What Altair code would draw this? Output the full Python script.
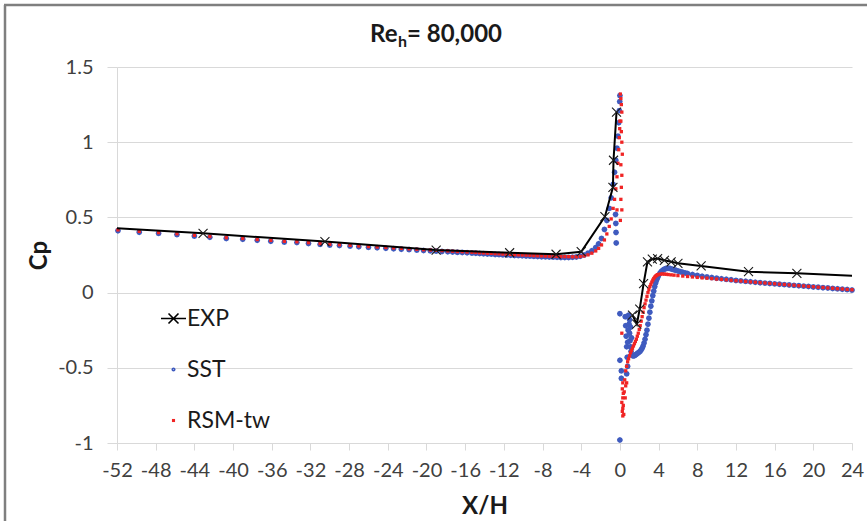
import altair as alt
import pandas as pd

FONT = "Lato"

# ---------------- text ----------------
TITLE_MAIN = ["Re"]
TITLE_SUB = ["h"]
TITLE_REST = ["= 80,000"]
SERIES = ["EXP", "SST", "RSM-tw"]
X_TICKS = list(range(-52, 25, 4))
Y_TICKS = [-1, -0.5, 0, 0.5, 1, 1.5]

# ---------------- EXP (line with crosses) ----------------
exp_upstream = [[-56, 0.443], [-43.1, 0.394], [-30.5, 0.339], [-19.0, 0.283], [-11.4, 0.265],
                [-6.6, 0.255], [-4.0, 0.272], [-1.55, 0.505], [-0.72, 0.70], [-0.66, 0.88],
                [-0.35, 1.20]]
exp_downstream = [[1.3, -0.15], [1.75, -0.21], [2.05, -0.11], [2.45, 0.06], [2.85, 0.205],
                  [3.35, 0.222], [3.9, 0.226], [4.6, 0.215], [5.3, 0.205], [6.0, 0.195],
                  [8.4, 0.177], [13.3, 0.139], [18.3, 0.128], [28.0, 0.102]]

# ---------------- SST (blue points) ----------------
sst_upstream = [[-51.9, 0.412], [-49.7, 0.402], [-47.7, 0.394], [-45.8, 0.386], [-44.0, 0.376],
                [-42.4, 0.368], [-40.7, 0.360], [-39.0, 0.355], [-37.5, 0.348], [-36.1, 0.342],
                [-34.7, 0.336], [-33.4, 0.333], [-32.2, 0.327], [-31.0, 0.321], [-30.0, 0.316],
                [-29.0, 0.313], [-27.9, 0.309], [-27.0, 0.305], [-26.0, 0.301], [-25.1, 0.298],
                [-24.2, 0.295], [-23.4, 0.292], [-22.6, 0.289], [-21.8, 0.286], [-21.0, 0.283],
                [-20.3, 0.280], [-19.6, 0.278], [-19.0, 0.276], [-18.4, 0.274], [-17.8, 0.272],
                [-17.3, 0.270], [-16.8, 0.268], [-16.3, 0.267], [-15.8, 0.265], [-15.3, 0.263],
                [-14.9, 0.262], [-14.5, 0.260], [-14.1, 0.259], [-13.7, 0.257], [-13.3, 0.256],
                [-12.9, 0.254], [-12.5, 0.253], [-12.1, 0.251], [-11.7, 0.250], [-11.3, 0.249],
                [-10.9, 0.247], [-10.5, 0.246], [-10.1, 0.245], [-9.7, 0.244], [-9.3, 0.243],
                [-8.9, 0.241], [-8.5, 0.240], [-8.1, 0.239], [-7.7, 0.238], [-7.3, 0.237],
                [-6.9, 0.236], [-6.5, 0.235], [-6.1, 0.234], [-5.7, 0.234], [-5.3, 0.234],
                [-4.9, 0.235], [-4.5, 0.237], [-4.1, 0.242], [-3.7, 0.250], [-3.3, 0.262],
                [-2.9, 0.278], [-2.5, 0.300], [-2.2, 0.325], [-1.9, 0.360], [-1.6, 0.420],
                [-1.35, 0.480], [-1.1, 0.560], [-0.9, 0.630], [-0.7, 0.720], [-0.55, 0.800],
                [-0.42, 0.880], [-0.3, 0.960], [-0.2, 1.040], [-0.12, 1.130], [-0.06, 1.210],
                [-0.02, 1.270], [0.0, 1.310],
                [-0.45, 0.52], [-0.42, 0.46], [-0.40, 0.40], [-0.38, 0.33]]
sst_downstream = [[0.0, -0.14], [0.0, -0.45], [0.15, -0.52], [0.15, -0.57], [0.0, -0.98],
                  [0.55, -0.16], [0.6, -0.22], [0.65, -0.29], [0.7, -0.36], [0.75, -0.43],
                  [0.8, -0.49], [0.7, -0.54], [0.9, -0.15], [0.95, -0.21], [1.0, -0.27],
                  [1.05, -0.32], [1.1, -0.36], [1.15, -0.39], [1.2, -0.41], [1.3, -0.42],
                  [0.85, -0.25], [0.8, -0.33], [1.0, -0.18], [1.1, -0.23], [1.2, -0.30],
                  [1.4, -0.42], [1.5, -0.42], [1.6, -0.415], [1.7, -0.41], [1.8, -0.405],
                  [1.9, -0.40], [2.0, -0.395], [2.1, -0.39], [2.2, -0.38], [2.3, -0.37],
                  [2.4, -0.355], [2.5, -0.335], [2.6, -0.31], [2.7, -0.28], [2.8, -0.25],
                  [2.9, -0.21], [3.0, -0.17], [3.1, -0.13], [3.2, -0.09], [3.3, -0.055],
                  [3.4, -0.02], [3.5, 0.01], [3.6, 0.04], [3.7, 0.065], [3.8, 0.085],
                  [3.9, 0.10], [4.0, 0.115], [4.15, 0.13], [4.3, 0.142], [4.45, 0.15],
                  [4.6, 0.156], [4.75, 0.16], [4.9, 0.162], [5.05, 0.162], [5.2, 0.16],
                  [5.4, 0.156], [5.6, 0.152], [5.8, 0.148], [6.0, 0.144], [6.25, 0.139],
                  [6.5, 0.135], [6.75, 0.131], [7.0, 0.127], [7.5, 0.12], [8.0, 0.114],
                  [8.5, 0.108], [9.0, 0.104], [9.5, 0.10], [10.0, 0.096], [10.5, 0.092],
                  [11.0, 0.088], [11.5, 0.085], [12.0, 0.081], [12.5, 0.078], [13.0, 0.075],
                  [13.5, 0.072], [14.0, 0.069], [14.5, 0.066], [15.0, 0.063], [15.5, 0.061],
                  [16.0, 0.058], [16.5, 0.056], [17.0, 0.053], [17.5, 0.051], [18.0, 0.048],
                  [18.5, 0.046], [19.0, 0.043], [19.5, 0.041], [20.0, 0.038], [20.5, 0.036],
                  [21.0, 0.033], [21.5, 0.031], [22.0, 0.028], [22.5, 0.025], [23.0, 0.023],
                  [23.5, 0.020], [24.0, 0.017]]

# ---------------- RSM-tw (red points) ----------------
rsm_upstream = [[-51.9, 0.417], [-49.7, 0.407], [-47.7, 0.399], [-45.8, 0.391], [-44.0, 0.381],
                [-42.4, 0.373], [-40.7, 0.365], [-39.0, 0.360], [-37.5, 0.353], [-36.1, 0.347],
                [-34.7, 0.341], [-33.4, 0.338], [-32.2, 0.332], [-31.0, 0.326], [-30.0, 0.321],
                [-29.0, 0.318], [-27.9, 0.314], [-27.0, 0.310], [-26.0, 0.306], [-25.1, 0.303],
                [-24.2, 0.300], [-23.4, 0.297], [-22.6, 0.294], [-21.8, 0.291], [-21.0, 0.288],
                [-20.3, 0.285], [-19.6, 0.283], [-19.0, 0.281], [-18.4, 0.279], [-17.8, 0.277],
                [-17.3, 0.275], [-16.8, 0.273], [-16.3, 0.272], [-15.8, 0.270], [-15.3, 0.268],
                [-14.9, 0.267], [-14.5, 0.265], [-14.1, 0.264], [-13.7, 0.262], [-13.3, 0.261],
                [-12.9, 0.259], [-12.5, 0.258], [-12.1, 0.256], [-11.7, 0.255], [-11.3, 0.254],
                [-10.9, 0.252], [-10.5, 0.251], [-10.1, 0.250], [-9.7, 0.249], [-9.3, 0.248],
                [-8.9, 0.246], [-8.5, 0.245], [-8.1, 0.244], [-7.7, 0.243], [-7.3, 0.242],
                [-6.9, 0.241], [-6.5, 0.240], [-6.1, 0.239], [-5.7, 0.239], [-5.3, 0.239],
                [-4.9, 0.238], [-4.5, 0.238], [-4.1, 0.240], [-3.7, 0.244], [-3.3, 0.251],
                [-2.9, 0.262], [-2.5, 0.277], [-2.2, 0.294], [-1.9, 0.317], [-1.6, 0.350],
                [-1.35, 0.390], [-1.1, 0.440], [-0.9, 0.490], [-0.7, 0.560], [-0.55, 0.620],
                [-0.42, 0.690], [-0.3, 0.770], [-0.2, 0.860], [-0.12, 0.950], [-0.06, 1.030],
                [-0.02, 1.090], [0.0, 1.140],
                [0.05, 1.32], [0.1, 1.29], [0.15, 1.25], [0.2, 1.20], [0.1, 1.14], [0.15, 1.07],
                [0.2, 1.00], [0.25, 0.92], [0.1, 0.85], [0.2, 0.78], [0.15, 0.70], [0.1, 0.62],
                [0.2, 0.55], [0.05, 0.48], [-0.3, 0.55]]
rsm_downstream = [[0.2, -0.27], [0.3, -0.60], [0.25, -0.64], [0.35, -0.67], [0.3, -0.70],
                  [0.2, -0.73], [0.35, -0.75], [0.3, -0.77], [0.25, -0.79], [0.4, -0.81],
                  [0.3, -0.82], [0.5, -0.58], [0.6, -0.62], [0.45, -0.66], [0.55, -0.70],
                  [0.7, -0.60], [0.6, -0.52], [0.7, -0.49], [0.8, -0.46], [0.9, -0.44],
                  [1.0, -0.42], [1.1, -0.40], [1.2, -0.385], [1.3, -0.37], [1.4, -0.355],
                  [1.5, -0.34], [1.6, -0.325], [1.7, -0.31], [1.8, -0.29], [1.9, -0.27],
                  [2.0, -0.245], [2.1, -0.22], [2.2, -0.19], [2.3, -0.16], [2.4, -0.13],
                  [2.5, -0.10], [2.6, -0.075], [2.7, -0.05], [2.8, -0.025], [2.9, 0.0],
                  [3.0, 0.02], [3.1, 0.04], [3.2, 0.055], [3.3, 0.07], [3.4, 0.083],
                  [3.5, 0.094], [3.6, 0.103], [3.7, 0.11], [3.8, 0.115], [3.9, 0.119],
                  [4.0, 0.121], [4.2, 0.123], [4.4, 0.124], [4.6, 0.123], [4.8, 0.122],
                  [5.0, 0.12], [5.3, 0.118], [5.6, 0.116], [6.0, 0.113], [6.5, 0.110],
                  [7.0, 0.107], [7.5, 0.104], [8.0, 0.101], [8.5, 0.098], [9.0, 0.096],
                  [9.5, 0.093], [10.0, 0.09], [10.5, 0.088], [11.0, 0.085], [11.5, 0.082],
                  [12.0, 0.079], [12.5, 0.077], [13.0, 0.074], [13.5, 0.071], [14.0, 0.069],
                  [14.5, 0.066], [15.0, 0.064], [15.5, 0.061], [16.0, 0.059], [16.5, 0.056],
                  [17.0, 0.054], [17.5, 0.051], [18.0, 0.049], [18.5, 0.046], [19.0, 0.044],
                  [19.5, 0.041], [20.0, 0.039], [20.5, 0.036], [21.0, 0.034], [21.5, 0.031],
                  [22.0, 0.029], [22.5, 0.026], [23.0, 0.024], [23.5, 0.021], [24.0, 0.019]]

# ---------------- tables ----------------
exp_rows = []
for seg, pairs in (("up", exp_upstream), ("down", exp_downstream)):
    for i, (a, b) in enumerate(pairs):
        exp_rows.append({"x": a, "y": b, "seg": seg, "i": i})
exp_df = pd.DataFrame(exp_rows)

sst_df = pd.DataFrame([{"x": a, "y": b, "series": "SST"} for a, b in sst_upstream + sst_downstream])
rsm_df = pd.DataFrame([{"x": a, "y": b, "series": "RSM-tw"} for a, b in rsm_upstream + rsm_downstream])

# ---------------- symbols ----------------
EXP_LEGEND_PATH = "M-1,0L1,0M-0.4,-0.4L0.4,0.4M-0.4,0.4L0.4,-0.4"
SST_PATH = "M-0.1,0L-0.07,-0.07L0,-0.1L0.07,-0.07L0.1,0L0.07,0.07L0,0.1L-0.07,0.07Z"
RSM_PATH = "M-0.06,-0.06L0.06,-0.06L0.06,0.06L-0.06,0.06Z"
CROSS_PATH = "M-1,-1L1,1M-1,1L1,-1"
COLORS = ["#000000", "#3f5bbf", "#f02424"]

x_scale = alt.Scale(domain=[-52, 24], nice=False, zero=False)
y_scale = alt.Scale(domain=[-1, 1.5], nice=False, zero=False)
x_axis = alt.Axis(values=X_TICKS, title="X/H", grid=False, tickSize=7,
                  labelPadding=10, titlePadding=14, labelExpr="'' + datum.value",
                  labelFlush=False, labelOverlap=False, labelBound=False)
y_axis = alt.Axis(values=Y_TICKS, title="Cp", grid=True, tickSize=10,
                  labelPadding=14, titlePadding=6, labelExpr="'' + datum.value",
                  labelFlush=False, labelOverlap=False)


def xe():
    return alt.X("x:Q", scale=x_scale, axis=x_axis)


def ye():
    return alt.Y("y:Q", scale=y_scale, axis=y_axis)


legend = alt.Legend(title=None, orient="none", legendX=43, legendY=238, padding=0,
                    labelFont=FONT, labelFontSize=23, labelColor="#1a1a1a",
                    symbolSize=625, symbolStrokeWidth=1.6, rowPadding=25, labelOffset=0)
color_enc = alt.Color("series:N", scale=alt.Scale(domain=SERIES, range=COLORS), legend=legend)
shape_enc = alt.Shape("series:N", scale=alt.Scale(domain=SERIES, range=[EXP_LEGEND_PATH, SST_PATH, RSM_PATH]),
                      legend=legend)

sst_layer = alt.Chart(sst_df).mark_point(filled=False, size=625, strokeWidth=3.2, opacity=1).encode(
    x=xe(), y=ye(), color=color_enc, shape=shape_enc)
rsm_layer = alt.Chart(rsm_df).mark_point(filled=False, size=625, strokeWidth=1.8, opacity=1).encode(
    x=xe(), y=ye(), color=color_enc, shape=shape_enc)

exp_line = alt.Chart(exp_df).mark_line(color="#000000", strokeWidth=2, clip=True).encode(
    x=xe(), y=ye(), detail="seg:N", order="i:Q")

exp_pts = alt.Chart(exp_df).mark_point(shape=CROSS_PATH, size=81, color="#1a1a1a", strokeWidth=1.1,
                                       filled=False, clip=True, opacity=1).encode(x=xe(), y=ye())

one = pd.DataFrame({"k": [0]})
frame_left = alt.Chart(one).mark_rule(color="#7f7f7f", strokeWidth=2.5).encode(
    x=alt.value(-112), y=alt.value(-62), y2=alt.value(454))
frame_top = alt.Chart(one).mark_rule(color="#7f7f7f", strokeWidth=2.5).encode(
    x=alt.value(-113), x2=alt.value(750), y=alt.value(-62))

t_main = alt.Chart(pd.DataFrame({"t": TITLE_MAIN})).mark_text(
    font=FONT, fontSize=24, fontWeight="bold", align="left", baseline="alphabetic", color="#1a1a1a"
).encode(text="t:N", x=alt.value(253), y=alt.value(-25))
t_sub = alt.Chart(pd.DataFrame({"t": TITLE_SUB})).mark_text(
    font=FONT, fontSize=16, fontWeight="bold", align="left", baseline="alphabetic", color="#1a1a1a"
).encode(text="t:N", x=alt.value(281), y=alt.value(-20))
t_rest = alt.Chart(pd.DataFrame({"t": TITLE_REST})).mark_text(
    font=FONT, fontSize=24, fontWeight="bold", align="left", baseline="alphabetic", color="#1a1a1a"
).encode(text="t:N", x=alt.value(290), y=alt.value(-25))

chart = alt.layer(sst_layer, rsm_layer, exp_line, exp_pts, frame_left, frame_top,
                  t_main, t_sub, t_rest).properties(
    width=735, height=376,
    padding={"left": 117, "top": 67, "right": 15, "bottom": 78},
    autosize=alt.AutoSizeParams(type="none"),
    background="white",
).configure_view(stroke=None).configure_axis(
    labelFont=FONT, titleFont=FONT, labelFontSize=20, labelColor="#404040",
    titleFontSize=24, titleFontWeight="bold", titleColor="#1a1a1a",
    domainColor="#d9d9d9", tickColor="#d9d9d9", gridColor="#d9d9d9",
    domainWidth=1, tickWidth=1, gridWidth=1,
)

chart.save("out.html", embed_options={"renderer": "svg", "actions": False})
